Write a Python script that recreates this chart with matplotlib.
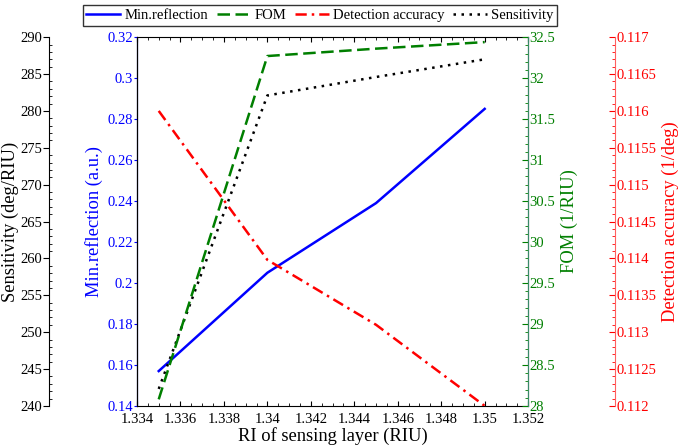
import matplotlib
matplotlib.use("Agg")
import matplotlib.pyplot as plt
from matplotlib.ticker import MultipleLocator, FuncFormatter

plt.rcParams['font.family'] = ['Liberation Serif', 'DejaVu Serif']

ri = [1.335, 1.34, 1.345, 1.35]
min_refl = [0.157, 0.205, 0.239, 0.285]
fom = [28.08, 32.27, 32.36, 32.44]
det_acc = [0.1160, 0.11398, 0.1131, 0.1120]
sens = [242.3, 282.1, 284.6, 287.0]

blue = '#0000ff'
green = '#007f00'
red = '#ff0000'
tsize = 10.5
lsize = 13.3

fmt = FuncFormatter(lambda v, p: f'{round(v, 7):g}')

fig = plt.figure(figsize=(6.85, 4.48), dpi=100)
ax = fig.add_axes([0.2, 0.094, 0.571, 0.823])
ax_s = ax.twinx()
ax_f = ax.twinx()
ax_d = ax.twinx()

l1, = ax.plot(ri, min_refl, color=blue, lw=1.8, label='Min.reflection')
l2, = ax_f.plot(ri, fom, color=green, lw=1.8, ls=(0, (5, 2.2)), label='FOM')
l3, = ax_d.plot(ri, det_acc, color=red, lw=1.8, ls=(0, (4.5, 2, 1, 2)), label='Detection accuracy')
l4, = ax_s.plot(ri, sens, color='black', lw=1.8, ls=(0, (1, 2.2)), label='Sensitivity')

ax.set_xlim(1.334, 1.352)
ax.xaxis.set_major_locator(MultipleLocator(0.002))
ax.xaxis.set_minor_locator(MultipleLocator(0.0005))
ax.xaxis.set_major_formatter(fmt)
ax.tick_params(axis='x', which='both', direction='in', top=True, labelsize=tsize, pad=5)
ax.tick_params(axis='x', which='minor', length=2.5)
ax.set_xlabel('RI of sensing layer (RIU)', fontsize=lsize, labelpad=1)

# blue (inner left)
ax.set_ylim(0.14, 0.32)
ax.yaxis.set_major_locator(MultipleLocator(0.02))
ax.yaxis.set_major_formatter(fmt)
ax.tick_params(axis='y', colors=blue, labelsize=tsize, direction='out', length=2, pad=1)
ax.spines['left'].set_color(blue)
ax.set_ylabel('Min.reflection (a.u.)', color=blue, fontsize=lsize, labelpad=3)

# sensitivity (outer left)
ax_s.set_ylim(240, 290)
ax_s.spines['left'].set_position(('axes', -0.225))
ax_s.spines['left'].set_visible(True)
ax_s.spines['right'].set_visible(False)
ax_s.yaxis.set_label_position('left')
ax_s.yaxis.set_ticks_position('left')
ax_s.yaxis.set_major_locator(MultipleLocator(5))
ax_s.yaxis.set_minor_locator(MultipleLocator(1))
ax_s.tick_params(axis='y', which='major', labelsize=tsize, direction='out', length=4, pad=1)
ax_s.tick_params(axis='y', which='minor', direction='in', length=2.5)
ax_s.set_ylabel('Sensitivity (deg/RIU)', fontsize=lsize, labelpad=1)

# FOM (inner right)
ax_f.set_ylim(28, 32.5)
ax_f.yaxis.set_major_locator(MultipleLocator(0.5))
ax_f.yaxis.set_minor_locator(MultipleLocator(0.1))
ax_f.yaxis.set_major_formatter(fmt)
ax_f.tick_params(axis='y', which='both', colors=green, labelsize=tsize,
                 direction='in', pad=1)
ax_f.tick_params(axis='y', which='major', length=4)
ax_f.tick_params(axis='y', which='minor', length=2.5)
ax_f.spines['right'].set_color('#3a8a6a')
ax_f.set_ylabel('FOM (1/RIU)', color=green, fontsize=lsize, labelpad=4)

# detection accuracy (outer right)
ax_d.set_ylim(0.112, 0.117)
ax_d.spines['right'].set_position(('axes', 1.2225))
ax_d.spines['right'].set_color('#ff6060')
ax_d.yaxis.set_major_locator(MultipleLocator(0.0005))
ax_d.yaxis.set_minor_locator(MultipleLocator(0.0001))
ax_d.yaxis.set_major_formatter(fmt)
ax_d.tick_params(axis='y', which='both', colors=red, labelsize=tsize,
                 direction='in', pad=1)
ax_d.tick_params(axis='y', which='major', length=4)
ax_d.tick_params(axis='y', which='minor', length=2.5)
ax_d.set_ylabel('Detection accuracy (1/deg)', color=red, fontsize=lsize, labelpad=4)

for a in (ax_s, ax_f, ax_d):
    a.spines['top'].set_visible(False)
    a.spines['bottom'].set_visible(False)

leg = fig.legend(handles=[l1, l2, l3, l4], loc='upper center',
                 bbox_to_anchor=(320 / 685, 0.995), ncol=4, fontsize=tsize,
                 frameon=True, fancybox=False, edgecolor='black',
                 handlelength=2.3, handletextpad=0.3, columnspacing=0.6,
                 borderpad=0.25, borderaxespad=0.2)
leg.get_frame().set_linewidth(1.0)

fig.savefig('out.png', dpi=100)
